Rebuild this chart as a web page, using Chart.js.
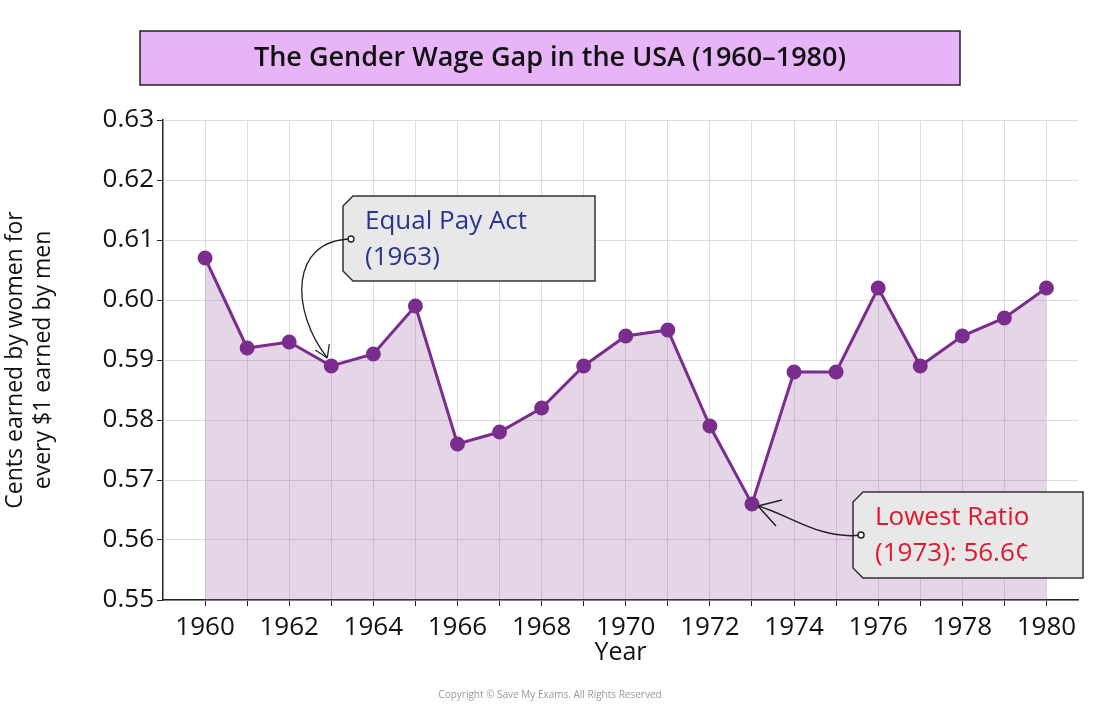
<!DOCTYPE html>
<html><head><meta charset="utf-8">
<script src="https://cdn.jsdelivr.net/npm/chart.js@4"></script>
<style>html,body{margin:0;background:#fff}#w{position:relative;width:1100px;height:708px}</style>
</head><body><div id="w"><canvas id="c" width="1100" height="708"></canvas></div>
<script>
const years=[1960,1961,1962,1963,1964,1965,1966,1967,1968,1969,1970,1971,1972,1973,1974,1975,1976,1977,1978,1979,1980];
const ratios=[0.607,0.592,0.593,0.589,0.591,0.599,0.576,0.578,0.582,0.589,0.594,0.595,0.579,0.566,0.588,0.588,0.602,0.589,0.594,0.597,0.602];
const yTicks=[0.55,0.56,0.57,0.58,0.59,0.60,0.61,0.62,0.63];
const titleText='The Gender Wage Gap in the USA (1960\u20131980)';
const F='"Open Sans", sans-serif';
const deco={id:'deco',afterDraw(ch){
 const c=ch.ctx,x=ch.scales.x,y=ch.scales.y;
 c.save();
 c.fillStyle='#e8b4f8';c.strokeStyle='#222';c.lineWidth=1.5;
 c.fillRect(140,31,820,54);c.strokeRect(140,31,820,54);
 c.fillStyle='#111';c.font='600 27px '+F;c.textAlign='center';c.textBaseline='middle';
 c.fillText(titleText,550,58);
 function label(bx,by,w,h,lines,col){
  c.fillStyle='#e8e8e8';c.strokeStyle='#333';c.lineWidth=1.5;
  c.beginPath();c.moveTo(bx+10,by);c.lineTo(bx+w,by);c.lineTo(bx+w,by+h);c.lineTo(bx+10,by+h);c.lineTo(bx,by+h-10);c.lineTo(bx,by+10);c.closePath();c.fill();c.stroke();
  c.fillStyle=col;c.font='26px '+F;c.textAlign='left';c.textBaseline='middle';
  lines.forEach((t,i)=>c.fillText(t,bx+22,by+26+i*36));
 }
 label(343,196,252,85,['Equal Pay Act','(1963)'],'#2a3590');
 const px=x.getPixelForValue(1963),py=y.getPixelForValue(0.589);
 c.strokeStyle='#222';c.lineWidth=1.3;
 c.beginPath();c.moveTo(351,239);c.bezierCurveTo(290,240,290,310,px-4,py-8);c.stroke();
 c.beginPath();c.arc(351,239,3,0,7);c.fillStyle='#fff';c.fill();c.stroke();
 c.beginPath();c.moveTo(px-4,py-8);c.lineTo(px-16,py-16);c.moveTo(px-4,py-8);c.lineTo(px-2,py-22);c.stroke();
 label(853,492,230,86,['Lowest Ratio','(1973): 56.6\u00a2'],'#e0182d');
 const qx=x.getPixelForValue(1973),qy=y.getPixelForValue(0.566);
 c.strokeStyle='#222';
 c.beginPath();c.moveTo(861,535);c.bezierCurveTo(820,540,790,515,qx+6,qy+2);c.stroke();
 c.beginPath();c.arc(861,535,3,0,7);c.fillStyle='#fff';c.fill();c.stroke();
 c.beginPath();c.moveTo(qx+6,qy+2);c.lineTo(qx+30,qy-4);c.moveTo(qx+6,qy+2);c.lineTo(qx+24,qy+22);c.stroke();
 c.fillStyle='#999';c.font='10px '+F;c.textAlign='center';
 c.fillText('Copyright \u00a9 Save My Exams. All Rights Reserved',550,695);
 c.restore();
}};
new Chart(document.getElementById('c'),{type:'line',
 data:{datasets:[{data:years.map((v,i)=>({x:v,y:ratios[i]})),borderColor:'#7b2d8e',borderWidth:3,
  backgroundColor:'rgba(150,90,160,0.25)',fill:'origin',pointRadius:6,pointBackgroundColor:'#7b2d8e',pointBorderColor:'#7b2d8e',tension:0}]},
 options:{responsive:false,animation:false,
  layout:{padding:{top:120,right:22,bottom:40,left:0}},
  plugins:{legend:{display:false},tooltip:{enabled:false}},
  scales:{
   x:{type:'linear',min:1959,max:1980.75,
    afterBuildTicks(s){s.ticks=years.map(v=>({value:v}));},
    afterFit(s){s.height=68;},
    ticks:{autoSkip:false,maxRotation:0,color:'#111',padding:6,font:{size:26,family:F},callback:v=>v%2===0?String(v):''},
    grid:{color:'#ddd',tickLength:6,tickColor:'#222'},border:{color:'#222',width:1.5},
    title:{display:true,text:'Year',color:'#111',font:{size:25,family:F},padding:0}},
   y:{min:0.55,max:0.63,
    afterBuildTicks(s){s.ticks=yTicks.map(v=>({value:v}));},
    afterFit(s){s.width=163;},
    ticks:{color:'#111',font:{size:26,family:F},callback:v=>v.toFixed(2)},
    grid:{color:'#ddd',tickLength:6,tickColor:'#222'},border:{color:'#222',width:1.5},
    title:{display:true,text:['Cents earned by women for','every $1 earned by men'],color:'#111',font:{size:23,family:F},padding:2}}
  }},
 plugins:[deco]});
</script></body></html>
